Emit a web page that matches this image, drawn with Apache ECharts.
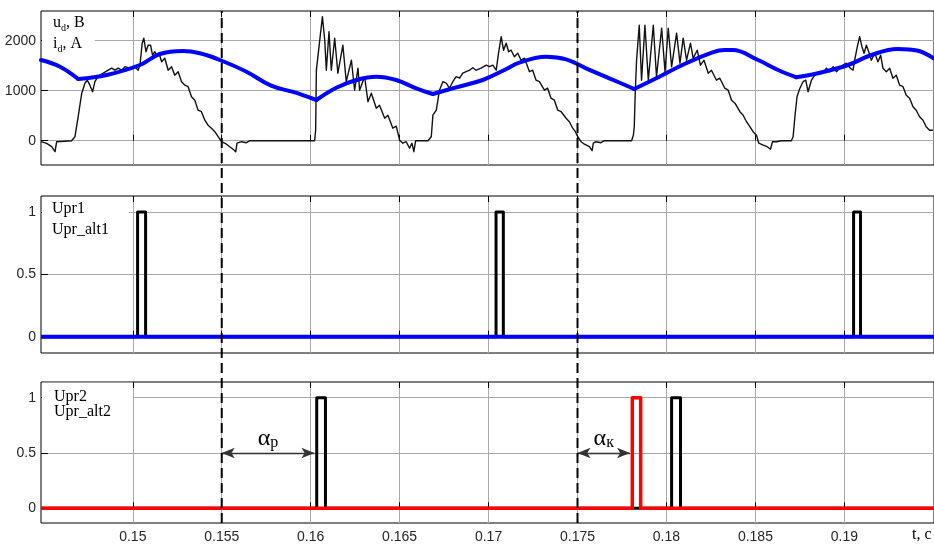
<!DOCTYPE html>
<html><head><meta charset="utf-8">
<script src="https://cdn.jsdelivr.net/npm/echarts@6/dist/echarts.min.js"></script>
<style>html,body{margin:0;padding:0;background:#fff}#c{width:934px;height:547px}</style>
</head><body><div id="c"></div>
<script>
// ---- data (time in ms, converted to s for the axis) ----
const tStart = 144.84, tEnd = 195.04;
const xTicks = [0.15, 0.155, 0.16, 0.165, 0.17, 0.175, 0.18, 0.185, 0.19];
const yTicksTop = [0, 1000, 2000];
const yTicksPulse = [0, 0.5, 1];

// u_d (black), by half-period segments [t ms, value]
const ud1 = [[144.84,-20],[145.16,-53],[145.44,-120],[145.63,-220],[145.72,-20],[146.56,0],[146.75,80],[146.93,480],[147.13,950],[147.31,1150],[147.44,1210],[147.59,1110],[147.74,980],[147.87,1180],[148.06,1290],[148.34,1350],[148.62,1410],[148.81,1450],[149.00,1410],[149.18,1450],[149.37,1410],[149.56,1480],[149.84,1450],[150.12,1480],[150.30,1410],[150.40,1510],[150.53,1950],[150.62,2050],[150.74,1780],[150.86,1910],[151.00,1910],[151.11,1710],[151.24,1780],[151.34,1710],[151.48,1750],[151.62,1580],[151.80,1650],[151.99,1410],[152.18,1480],[152.36,1310],[152.55,1380],[152.74,1180],[152.93,1110],[153.11,1080],[153.30,880],[153.49,810],[153.67,610],[153.86,580],[154.05,410],[154.23,310],[154.42,250],[154.61,180],[154.80,80],[154.99,-20],[155.27,-70],[155.45,-120],[155.64,-170],[155.79,-220],[155.86,-50],[156.11,-20],[156.39,-40],[156.58,0]];
const ud2 = [[160.22,0],[160.28,210],[160.32,1410],[160.51,2010],[160.66,2480],[160.79,2010],[160.88,1410],[161.03,2180],[161.16,1410],[161.35,2050],[161.53,1350],[161.81,1910],[162.00,1180],[162.29,1610],[162.47,1010],[162.66,1450],[162.75,1010],[163.03,1280],[163.22,780],[163.41,950],[163.69,650],[163.87,710],[164.16,450],[164.34,510],[164.62,250],[164.81,290],[165.00,10],[165.18,-50],[165.37,-20],[165.56,-150],[165.69,-50],[165.80,-220],[165.90,0]];
const ud3 = [[166.59,0],[166.78,80],[166.87,510],[167.06,610],[167.24,1010],[167.43,1180],[167.62,1150],[167.80,1050],[167.99,1180],[168.18,1280],[168.37,1250],[168.55,1350],[168.74,1380],[168.93,1410],[169.11,1460],[169.30,1410],[169.58,1450],[169.87,1510],[170.05,1480],[170.24,1510],[170.43,1410],[170.56,1750],[170.71,2080],[170.84,1810],[170.99,1950],[171.13,1780],[171.27,1810],[171.45,1680],[171.64,1750],[171.83,1610],[172.02,1650],[172.30,1380],[172.48,1410],[172.67,1210],[172.86,1180],[173.14,1010],[173.32,1050],[173.51,850],[173.70,810],[173.89,610],[174.08,580],[174.36,450],[174.54,380],[174.73,250],[174.88,180],[175.01,80],[175.20,-20],[175.39,-70],[175.67,-120],[175.82,-200],[175.89,-50],[176.04,-20],[176.32,-40],[176.51,0]];
const ud4 = [[178.04,0],[178.14,110],[178.19,280],[178.25,1010],[178.32,1610],[178.47,2310],[178.60,1210],[178.79,2310],[178.98,1210],[179.26,2310],[179.44,1280],[179.73,2250],[179.92,1380],[180.10,2250],[180.29,1480],[180.57,2150],[180.76,1550],[180.94,2050],[181.13,1610],[181.35,1950],[181.50,1650],[181.73,1810],[181.91,1510],[182.11,1610],[182.35,1350],[182.53,1410],[182.81,1210],[183.00,1250],[183.28,1050],[183.47,1010],[183.66,810],[183.85,750],[184.13,580],[184.31,510],[184.50,380],[184.69,280],[184.87,180],[185.06,110],[185.19,-50],[185.44,-90],[185.66,-120],[185.85,-170],[185.96,-20],[186.18,-20],[186.46,0]];
const ud5 = [[187.02,0],[187.12,80],[187.22,480],[187.34,880],[187.50,1050],[187.68,1180],[187.83,1210],[187.96,980],[188.15,1210],[188.34,1310],[188.62,1380],[188.80,1350],[188.99,1450],[189.18,1380],[189.37,1480],[189.55,1380],[189.74,1450],[189.93,1510],[190.11,1550],[190.34,1450],[190.49,1410],[190.58,1610],[190.73,1880],[190.86,2080],[190.99,1880],[191.11,1750],[191.24,1910],[191.37,1780],[191.52,1610],[191.71,1750],[191.89,1580],[192.04,1710],[192.17,1450],[192.36,1380],[192.55,1450],[192.73,1250],[192.92,1310],[193.11,1110],[193.30,1080],[193.48,910],[193.67,850],[193.86,680],[194.04,610],[194.23,480],[194.42,410],[194.60,280],[194.79,210],[194.98,210]];

// i_d (blue); the curve has sharp corners at the firing instants listed in idKinks
const idPts = [[144.84,1614],[145.91,1480],[146.93,1234],[148.53,1314],[150.40,1514],[151.52,1734],[152.83,1794],[153.77,1748],[154.89,1614],[156.39,1380],[157.78,1100],[159.01,975],[160.32,814],[161.44,1060],[162.57,1214],[163.69,1280],[164.81,1214],[165.93,1047],[166.87,934],[168.18,1067],[169.67,1214],[170.89,1414],[171.73,1560],[173.23,1680],[174.36,1628],[175.48,1448],[176.79,1248],[178.19,1034],[179.60,1280],[181.10,1548],[182.59,1768],[183.28,1814],[183.71,1814],[185.15,1614],[186.28,1414],[187.30,1268],[188.52,1348],[190.21,1514],[191.52,1714],[193.01,1834],[194.14,1800],[195.04,1640]];
const idKinks = [146.93, 160.32, 166.87, 178.19, 187.30];

// control pulses: rise / fall times (ms)
const upr1Rise = [150.27, 170.42, 190.52], upr1Fall = [150.72, 170.83, 190.91];
const upr2Rise = [160.34, 180.29], upr2Fall = [160.83, 180.79];
const uprAlt2Rise = [178.08], uprAlt2Fall = [178.55];

// dashed marker times and angle arrows (ms)
const markerTimes = [155.0, 175.0];
const alphaP = [155.0, 160.21];
const alphaK = [175.0, 177.95];

// ---- helpers ----
const toS = p => [p[0] / 1000, p[1]];
function pulseTrain(r, f) {
  const pts = [[tStart, 0]];
  r.forEach((t, i) => { pts.push([t, 0], [t, 1], [f[i], 1], [f[i], 0]); });
  pts.push([tEnd, 0]);
  return pts.map(toS);
}
const udPts = ud1.concat(ud2, ud3, ud4, ud5).map(toS);
// split i_d at its corners so each arc is smoothed on its own
const idSegments = [];
let cur = [];
idPts.forEach(p => {
  cur.push(p);
  if (idKinks.indexOf(p[0]) >= 0) { idSegments.push(cur); cur = [p]; }
});
idSegments.push(cur);

const SANS = 'Liberation Sans', SERIF = 'Liberation Serif';
const GRIDC = '#a9a9a9';
const grids = [
  {left: 41, top: 11, width: 894, height: 154},
  {left: 41, top: 196, width: 894, height: 157},
  {left: 41, top: 382, width: 894, height: 141}
];
const yRanges = [[-486, 2594], [-0.131, 1.128], [-0.133, 1.142]];
const yTicks = [yTicksTop, yTicksPulse, yTicksPulse];

const xAxes = [], yAxes = [];
grids.forEach((g, i) => {
  xAxes.push({
    gridIndex: i, type: 'value', min: tStart / 1000, max: tEnd / 1000, position: 'bottom',
    axisLine: {show: false},
    axisTick: {show: true, inside: true, length: 6, customValues: xTicks, lineStyle: {color: '#000', width: 1}},
    axisLabel: {show: i === 2, customValues: xTicks, margin: 7, fontFamily: SANS, fontSize: 14, color: '#262626',
      formatter: v => String(+(+v).toFixed(3))},
    splitLine: {show: true, lineStyle: {color: GRIDC, width: 1}}
  });
  xAxes.push({
    gridIndex: i, type: 'value', min: tStart / 1000, max: tEnd / 1000, position: 'top',
    axisLine: {show: false},
    axisTick: {show: true, inside: true, length: 6, customValues: xTicks, lineStyle: {color: '#000', width: 1}},
    axisLabel: {show: false}, splitLine: {show: false}
  });
  yAxes.push({
    gridIndex: i, type: 'value', min: yRanges[i][0], max: yRanges[i][1],
    axisLine: {show: false},
    axisTick: {show: true, inside: true, length: 7, customValues: yTicks[i], lineStyle: {color: '#000', width: 1}},
    axisLabel: {show: true, customValues: yTicks[i], margin: 5, fontFamily: SANS, fontSize: 14, color: '#262626',
      formatter: v => String(+(+v).toFixed(3))},
    splitLine: {show: true, lineStyle: {color: GRIDC, width: 1}}
  });
});
// overlay grid spanning all three panels for the dashed markers
const overlayGrid = {left: 41, top: 11, width: 894, height: 512, show: false};
xAxes.push({gridIndex: 3, type: 'value', min: tStart / 1000, max: tEnd / 1000, show: false});
yAxes.push({gridIndex: 3, type: 'value', min: 0, max: 1, show: false});

function boxTitle(text, left, top, lh, pad) {
  const rich = {
    m: {fontFamily: SERIF, fontSize: 16, fontWeight: 'normal', color: '#000', lineHeight: lh},
    s: {fontFamily: SERIF, fontSize: 10, fontWeight: 'normal', lineHeight: 11, verticalAlign: 'bottom', color: '#000'}
  };
  return {text, left, top, padding: pad, backgroundColor: '#fff',
    textStyle: {fontWeight: 'normal', fontFamily: SERIF, rich}, z: 1};
}

const markerSeries = markerTimes.map(t => ({
  type: 'line', xAxisIndex: 6, yAxisIndex: 3, data: [[t / 1000, 0], [t / 1000, 1]], symbol: 'none', z: 5,
  silent: true, lineStyle: {color: '#000', width: 2, type: [10, 5]}
}));
const idSeries = idSegments.map(seg => ({
  type: 'line', xAxisIndex: 0, yAxisIndex: 0, data: seg.map(toS), symbol: 'none', smooth: 0.4, z: 4,
  lineStyle: {color: '#0000ff', width: 4, cap: 'round'}
}));

const chart = echarts.init(document.getElementById('c'), null, {renderer: 'canvas'});
chart.setOption({
  animation: false,
  backgroundColor: '#fff',
  title: [
    boxTitle('{m|u}{s|d}{m|, В}\n{m|i}{s|d}{m|, А}', 42, 12, 21, [0, 10, 2, 11]),
    boxTitle('{m|Upr1}\n{m|Upr_alt1}', 42, 197, 20.5, [2, 20, 4, 10]),
    boxTitle('{m|Upr2}\n{m|Upr_alt2}', 42, 383, 15.3, [6, 22, 4, 12]),
    {text: 't, с', left: 912, top: 527, padding: 0, textStyle: {fontFamily: SERIF, fontSize: 16, fontWeight: 'normal', color: '#000'}}
  ],
  grid: grids.map(g => Object.assign({show: true, borderColor: '#000', borderWidth: 1, backgroundColor: '#fff'}, g)).concat([overlayGrid]),
  xAxis: xAxes,
  yAxis: yAxes,
  series: [
    {type: 'line', xAxisIndex: 0, yAxisIndex: 0, data: udPts, symbol: 'none', z: 3,
      lineStyle: {color: '#111', width: 1.4, join: 'round'}},
    {type: 'line', xAxisIndex: 2, yAxisIndex: 1, data: pulseTrain(upr1Rise, upr1Fall), symbol: 'none', z: 3,
      lineStyle: {color: '#000', width: 3, join: 'round'}},
    {type: 'line', xAxisIndex: 2, yAxisIndex: 1, data: pulseTrain([], []), symbol: 'none', z: 4,
      lineStyle: {color: '#0000ff', width: 4}},
    {type: 'line', xAxisIndex: 4, yAxisIndex: 2, data: pulseTrain(upr2Rise, upr2Fall), symbol: 'none', z: 3,
      lineStyle: {color: '#000', width: 3, join: 'round'},
      markLine: {
        silent: true, symbol: ['arrow', 'arrow'], symbolSize: [8, 13],
        lineStyle: {color: '#333', width: 1.3, type: 'solid'},
        label: {show: true, position: 'insideMiddleTop', distance: 2,
          formatter: p => '{a|α}{b|' + p.name + '}',
          rich: {a: {fontFamily: SERIF, fontSize: 24, color: '#000', lineHeight: 24},
                 b: {fontFamily: SERIF, fontSize: 16, color: '#000', lineHeight: 14, verticalAlign: 'bottom'}}},
        data: [
          [{name: 'р', coord: [alphaP[0] / 1000, 0.5]}, {coord: [alphaP[1] / 1000, 0.5]}],
          [{name: 'к', coord: [alphaK[0] / 1000, 0.5]}, {coord: [alphaK[1] / 1000, 0.5]}]
        ]
      }},
    {type: 'line', xAxisIndex: 4, yAxisIndex: 2, data: pulseTrain(uprAlt2Rise, uprAlt2Fall), symbol: 'none', z: 4,
      lineStyle: {color: '#ff0000', width: 3.5, join: 'round'}}
  ].concat(idSeries, markerSeries)
});
</script>
</body></html>
